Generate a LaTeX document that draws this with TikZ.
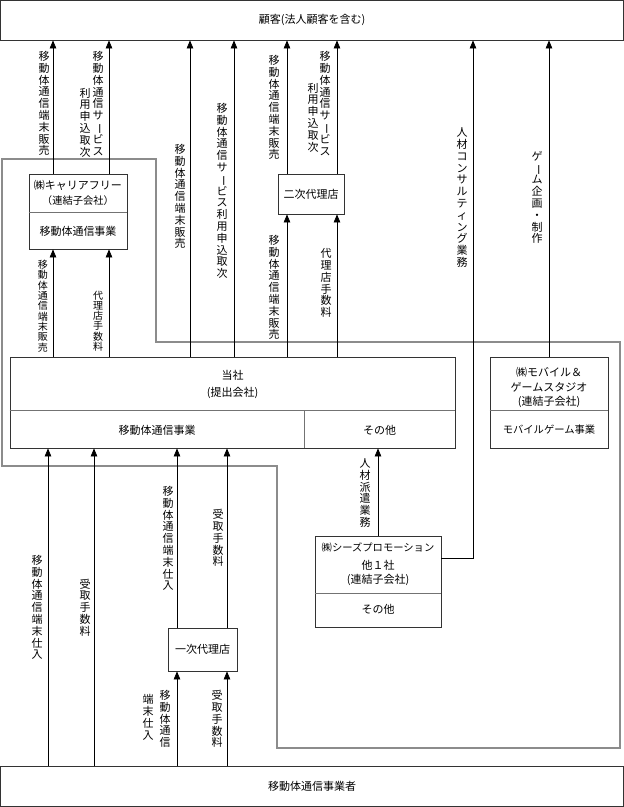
\documentclass[tikz,border=0pt]{standalone}
\usepackage{fontspec}
\setmainfont{Noto Sans CJK JP}
\usepackage{graphicx}
\usetikzlibrary{arrows.meta}
\ExplSyntaxOn
\NewDocumentCommand\vstack{O{11.8pt}m}{
  \vbox{\baselineskip=#1\lineskiplimit=-\maxdimen\lineskip=0pt
    \tl_map_inline:nn{#2}{
      \str_if_eq:nnTF{##1}{ー}
        {\hbox to 11pt{\hss\rotatebox[origin=c]{-90}{ー}\hss}}
        {\hbox to 11pt{\hss##1\hss}}
    }
  }
}
\ExplSyntaxOff
\begin{document}
\begin{tikzpicture}[x=1pt,y=-1pt,
  every node/.style={font=\fontsize{11pt}{13pt}\selectfont, inner sep=0pt},
  box/.style={draw=black!80, line width=0.8pt, fill=none},
  divline/.style={draw=black!55, line width=0.8pt},
  grp/.style={draw=black!45, line width=1.1pt},
  arr/.style={draw=black, line width=0.7pt, -{Triangle[length=8pt,width=6.5pt]}},
  vl/.style={anchor=center},
  vls/.style={anchor=center, font=\fontsize{10pt}{12pt}\selectfont},
  tx/.style={anchor=center},
  txs/.style={anchor=center, font=\fontsize{10.3pt}{12pt}\selectfont}]
\useasboundingbox (0,0) rectangle (624,807);
\fill[white] (0,0) rectangle (624,807);

% group outline
\draw[grp] (2,159) -- (156,159) -- (156,342) -- (620,342) -- (620,748) -- (277,748) -- (277,466) -- (2,466) -- cycle;

% boxes
\node[box, minimum width=623pt, minimum height=39.5pt] (cust) at (312,20.25) {顧客(法人顧客を含む)};
\node[box, minimum width=98pt, minimum height=75pt] (carrier) at (78,211.5) {};
\node[box, minimum width=66pt, minimum height=40pt] (niji) at (311,194) {二次代理店};
\node[box, minimum width=445pt, minimum height=91pt] (tosha) at (232.5,402.5) {};
\node[box, minimum width=118pt, minimum height=91pt] (mobile) at (549,402.5) {};
\node[box, minimum width=126pt, minimum height=91pt] (seeds) at (378,581.5) {};
\node[box, minimum width=69pt, minimum height=43pt] (ichiji) at (202.5,649.5) {一次代理店};
\node[box, minimum width=623pt, minimum height=40.5pt] (mno) at (312,786.25) {移動体通信事業者};

% dividers
\draw[divline] (carrier.west |- 0,212) -- (carrier.east |- 0,212);
\draw[divline] (tosha.west |- 0,410) -- (tosha.east |- 0,410);
\draw[divline] (304,410) -- (tosha.south -| 304,0);
\draw[divline] (mobile.west |- 0,410) -- (mobile.east |- 0,410);
\draw[divline] (seeds.west |- 0,593) -- (seeds.east |- 0,593);

% box texts
\node[tx] (c1) at (78,185) {㈱キャリアフリー};
\node[txs] (c2) at (78,201) {（連結子会社）};
\node[tx] (c3) at (78,231) {移動体通信事業};
\node[tx] (s1) at (232.5,375) {当社};
\node[tx] (s2) at (232.5,393) {(提出会社)};
\node[tx] (s3) at (157,430) {移動体通信事業};
\node[tx] (s4) at (379.5,430) {その他};
\node[tx] (m1) at (549,372) {㈱モバイル＆};
\node[tx] (m2) at (549,387) {ゲームスタジオ};
\node[tx] (m3) at (549,402) {(連結子会社)};
\node[txs] (m4) at (549,430) {モバイルゲーム事業};
\node[txs] (e1) at (378,548) {㈱シーズプロモーション};
\node[tx] (e2) at (378,565) {他１社};
\node[tx] (e3) at (378,580) {(連結子会社)};
\node[tx] (e4) at (378,609) {その他};

% arrows to customers
\draw[arr] (carrier.north -| 53,0) -- (cust.south -| 53,0);
\draw[arr] (carrier.north -| 109,0) -- (cust.south -| 109,0);
\draw[arr] (tosha.north -| 190,0) -- (cust.south -| 190,0);
\draw[arr] (tosha.north -| 234,0) -- (cust.south -| 234,0);
\draw[arr] (niji.north -| 287,0) -- (cust.south -| 287,0);
\draw[arr] (niji.north -| 337,0) -- (cust.south -| 337,0);
\draw[arr] (seeds.east |- 0,558) -- (473,558) -- (cust.south -| 473,0);
\draw[arr] (mobile.north) -- (cust.south -| mobile.north);
% arrows from tosha up to carrier / niji
\draw[arr] (tosha.north -| 53,0) -- (carrier.south -| 53,0);
\draw[arr] (tosha.north -| 109,0) -- (carrier.south -| 109,0);
\draw[arr] (tosha.north -| 287,0) -- (niji.south -| 287,0);
\draw[arr] (tosha.north -| 337,0) -- (niji.south -| 337,0);
% arrows into tosha from below
\draw[arr] (mno.north -| 48,0) -- (tosha.south -| 48,0);
\draw[arr] (mno.north -| 94,0) -- (tosha.south -| 94,0);
\draw[arr] (ichiji.north -| 177,0) -- (tosha.south -| 177,0);
\draw[arr] (ichiji.north -| 227,0) -- (tosha.south -| 227,0);
\draw[arr] (mno.north -| 177,0) -- (ichiji.south -| 177,0);
\draw[arr] (mno.north -| 227,0) -- (ichiji.south -| 227,0);
\draw[arr] (seeds.north) -- (tosha.south -| seeds.north);

% vertical labels
\node[vl] (a1) at (44,103.5) {\vstack{移動体通信端末販売}};
\node[vl] (a2r) at (98,103.5) {\vstack{移動体通信サービス}};
\node[vl] (a2l) at (85,122.5) {\vstack{利用申込取次}};
\node[vl] (a3) at (180,196.5) {\vstack{移動体通信端末販売}};
\node[vl] (a4) at (222,191) {\vstack{移動体通信サービス利用申込取次}};
\node[vl] (a5u) at (274,107.5) {\vstack{移動体通信端末販売}};
\node[vl] (a5l) at (274,287.5) {\vstack{移動体通信端末販売}};
\node[vl] (a6r) at (325,103.5) {\vstack{移動体通信サービス}};
\node[vl] (a6l) at (313,117.5) {\vstack{利用申込取次}};
\node[vl] (a6b) at (326,283) {\vstack{代理店手数料}};
\node[vl] (a7) at (462,197.5) {\vstack{人材コンサルティング業務}};
\node[vl] (a8) at (537,197.5) {\vstack{ゲーム企画・制作}};
\node[vls] (a9) at (43,306) {\vstack[10.3pt]{移動体通信端末販売}};
\node[vls] (a10) at (98,321) {\vstack[10.3pt]{代理店手数料}};
\node[vl] (b1) at (37,607.5) {\vstack{移動体通信端末仕入}};
\node[vl] (b2) at (85,607.5) {\vstack{受取手数料}};
\node[vl] (b3) at (168,538.5) {\vstack{移動体通信端末仕入}};
\node[vl] (b4) at (218,538) {\vstack{受取手数料}};
\node[vl] (b5r) at (165,719) {\vstack{移動体通信}};
\node[vl] (b5l) at (148,717.5) {\vstack{端末仕入}};
\node[vl] (b6) at (217,719) {\vstack{受取手数料}};
\node[vl] (b7) at (365,493) {\vstack{人材派遣業務}};
\end{tikzpicture}
\end{document}
